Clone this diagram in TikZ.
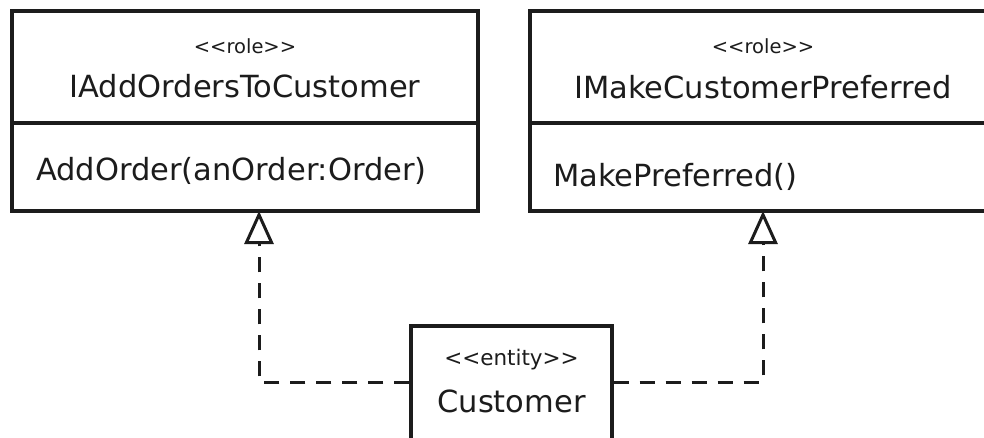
\documentclass[tikz,border=0pt]{standalone}
\usepackage{fontspec}
\setmainfont{DejaVu Sans}
\usetikzlibrary{arrows.meta}
\definecolor{ink}{HTML}{1C1C1C}
\newcommand{\ltlt}{<\kern0pt<\kern0pt}
\newcommand{\gtgt}{\kern0pt>\kern0pt>}
\tikzset{
  umlbox/.style={draw=ink, line width=3.2pt, fill=white, inner sep=0pt},
  maintext/.style={text=ink, font=\fontsize{30.5}{36}\selectfont, inner sep=0pt},
  stereo/.style={text=ink, font=\fontsize{19.5}{24}\selectfont, inner sep=0pt},
  sepline/.style={draw=ink, line width=3.2pt},
  realize/.style={draw=ink, line width=3pt, dash pattern=on 15pt off 11pt, line join=miter,
    -{Triangle[open, length=33pt, width=29pt, line width=3pt]}}
}
\begin{document}
\begin{tikzpicture}[x=1pt,y=-1pt]
\clip (0,0) rectangle (984,437);
\fill[white] (0,0) rectangle (984,437);
% left role box
\node[umlbox, minimum width=466pt, minimum height=200pt] (L) at (245,111) {};
\draw[sepline] (L.west |- 0,123) coordinate (Lsw) -- (L.east |- 0,123) coordinate (Lse);
\node[stereo, anchor=base] (Lst) at (245,53) {\ltlt role\gtgt};
\node[maintext, anchor=base] (Lname) at (245,97) {IAddOrdersToCustomer};
\node[maintext, anchor=base west] (Lop) at (36,180) {AddOrder(anOrder:Order)};
% right role box
\node[umlbox, minimum width=466pt, minimum height=200pt] (R) at (763,111) {};
\draw[sepline] (R.west |- 0,123) coordinate (Rsw) -- (R.east |- 0,123) coordinate (Rse);
\node[stereo, anchor=base] (Rst) at (763,53) {\ltlt role\gtgt};
\node[maintext, anchor=base] (Rname) at (763,98) {IMakeCustomerPreferred};
\node[maintext, anchor=base west] (Rop) at (553,186) {MakePreferred()};
% customer
\node[umlbox, minimum width=201pt, minimum height=144pt] (C) at (511.5,398) {};
\node[text=ink, font=\fontsize{21.5}{26}\selectfont, inner sep=0pt, anchor=base] (Cst) at (511.5,365) {\ltlt entity\gtgt};
\node[maintext, anchor=base] (Cname) at (511.5,412) {Customer};
% realization connectors
\coordinate (la) at (259,211);
\coordinate (ra) at (763,211);
\draw[realize] (C.west |- 0,382) -| (la);
\draw[realize] (C.east |- 0,382) -| (ra);
\end{tikzpicture}
\end{document}
